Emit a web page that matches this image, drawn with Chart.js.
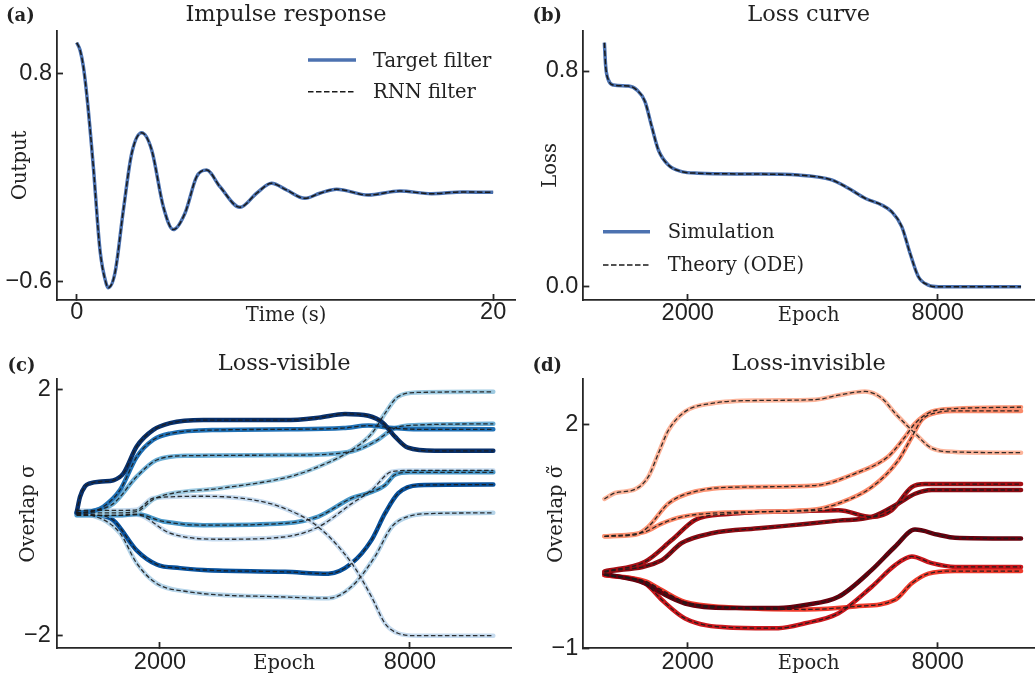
<!DOCTYPE html>
<html>
<head>
<meta charset="utf-8">
<title>RNN filter learning dynamics</title>
<script src="https://cdn.jsdelivr.net/npm/chart.js@4.4.1/dist/chart.umd.min.js"></script>
<style>
  body { margin: 0; background: #fff; width: 1035px; height: 682px; position: relative; overflow: hidden; }
  canvas { position: absolute; }
</style>
</head>
<body>
<canvas id="impulseChart" width="520" height="340" style="left:0;top:0"></canvas>
<canvas id="lossChart" width="515" height="340" style="left:520px;top:0"></canvas>
<canvas id="visibleChart" width="520" height="342" style="left:0;top:340px"></canvas>
<canvas id="invisibleChart" width="515" height="342" style="left:520px;top:340px"></canvas>
<script>
// (a) impulse response: [time (s), output]
const impulseResponse = [
  [0, 1.006], [0.16, 0.956], [0.32, 0.845], [0.51, 0.62], [0.80, 0.17], [1.12, -0.39], [1.41, -0.61],
  [1.52, -0.64], [1.84, -0.54], [2.24, -0.12], [2.64, 0.26], [3.12, 0.40], [3.60, 0.285],
  [4.16, -0.096], [4.64, -0.25], [5.20, -0.14], [5.76, 0.105], [6.24, 0.15], [6.88, 0.038],
  [7.84, -0.10], [8.64, -0.006], [9.36, 0.061], [10.08, 0.016], [10.96, -0.04], [11.68, -0.006],
  [12.48, 0.021], [14.0, -0.018], [15.52, 0.009], [17.04, -0.009], [18.56, 0.003], [20, 0]
];

// (b) loss: [epoch, loss]
const lossCurve = [
  [0, 0.905], [32, 0.816], [96, 0.767], [216, 0.748], [576, 0.744], [776, 0.730],
  [976, 0.686], [1136, 0.594], [1296, 0.507], [1536, 0.451], [1856, 0.427], [2256, 0.421],
  [3456, 0.418], [4656, 0.414], [5456, 0.396], [5856, 0.365], [6256, 0.328], [6656, 0.303],
  [6896, 0.278], [7136, 0.223], [7336, 0.124], [7536, 0.037], [7776, 0.006], [8016, 0], [10000, 0]
];

// (c) loss-visible overlaps: [epoch, sigma]
const visSigma1 = [[0, 0], [80, 0.26], [200, 0.43], [320, 0.48], [600, 0.51], [880, 0.53], [1120, 0.64], [1440, 1.08], [1840, 1.35], [2240, 1.46], [3040, 1.51], [5000, 1.51], [5800, 1.55], [6440, 1.61], [7000, 1.58], [7360, 1.46], [7640, 1.24], [7950, 1.06], [8600, 1.01], [10000, 1.01]];
const visSigma2 = [[0, 0], [400, 0.03], [640, 0.10], [1040, 0.37], [1440, 0.91], [1840, 1.19], [2240, 1.29], [3440, 1.35], [5120, 1.36], [6400, 1.38], [7000, 1.42], [7600, 1.38], [8200, 1.36], [10000, 1.36]];
const visSigma3 = [[0, 0], [400, 0.03], [880, 0.15], [1440, 0.59], [1920, 0.86], [2640, 0.93], [5120, 0.94], [6600, 1.0], [7160, 1.16], [7640, 1.38], [8200, 1.43], [10000, 1.45]];
const visSigma4 = [[0, 0], [1000, 0], [1440, 0.02], [1840, 0.22], [2240, 0.31], [3440, 0.40], [5120, 0.59], [5800, 0.75], [6600, 1.02], [7080, 1.29], [7400, 1.62], [7710, 1.89], [8190, 1.96], [10000, 1.97]];
const visSigma5 = [[0, 0.04], [1000, 0.04], [1440, 0.05], [1840, 0.24], [3040, 0.27], [4240, 0.21], [5000, 0.07], [5800, -0.23], [6600, -0.82], [7080, -1.37], [7400, -1.80], [7710, -1.96], [8190, -2.0], [10000, -2.0]];
const visSigma6 = [[0, -0.04], [1000, -0.04], [1440, -0.02], [2080, -0.14], [3040, -0.20], [5000, -0.17], [5800, -0.06], [6600, 0.24], [7080, 0.34], [7400, 0.45], [7640, 0.62], [8000, 0.66], [10000, 0.66]];
const visSigma7 = [[0, -0.04], [1000, -0.04], [1440, -0.03], [2240, -0.33], [3440, -0.43], [5000, -0.39], [5800, -0.23], [6600, 0.15], [7080, 0.37], [7560, 0.67], [8000, 0.69], [10000, 0.69]];
const visSigma8 = [[0, -0.01], [400, -0.03], [880, -0.12], [1440, -0.61], [1920, -0.84], [2480, -0.90], [3040, -0.93], [5000, -0.96], [6040, -0.99], [6600, -0.82], [7080, -0.44], [7400, -0.01], [7720, 0.32], [8200, 0.45], [10000, 0.46]];
const visSigma9 = [[0, -0.02], [400, -0.05], [1040, -0.33], [1440, -0.82], [1920, -1.15], [2640, -1.28], [5000, -1.37], [6040, -1.39], [6600, -1.20], [7160, -0.71], [7560, -0.23], [7960, -0.06], [8600, -0.01], [10000, 0]];

// (d) loss-invisible overlaps: [epoch, sigma tilde]
const invSigma1 = [[0, 1.0], [256, 1.08], [736, 1.13], [1056, 1.30], [1296, 1.61], [1536, 1.92], [1936, 2.17], [2576, 2.28], [3776, 2.32], [5056, 2.33], [5618, 2.39], [6254, 2.44], [6658, 2.35], [6974, 2.15], [7454, 1.88], [7854, 1.68], [8414, 1.63], [10000, 1.62]];
const invSigma2 = [[0, 0.50], [736, 0.52], [1056, 0.63], [1536, 0.94], [2176, 1.10], [3376, 1.16], [5056, 1.18], [6014, 1.34], [6814, 1.57], [7214, 1.83], [7454, 2.01], [7854, 2.17], [8414, 2.21], [10000, 2.23]];
const invSigma3 = [[0, 0.50], [976, 0.56], [1376, 0.67], [1856, 0.76], [2976, 0.82], [5056, 0.86], [5618, 0.94], [6418, 1.16], [7058, 1.52], [7378, 1.83], [7618, 2.06], [8018, 2.16], [8414, 2.18], [10000, 2.18]];
const invSigma4 = [[0, 0.03], [976, 0.16], [1616, 0.45], [2176, 0.72], [2976, 0.80], [4818, 0.84], [5618, 0.85], [6418, 0.76], [6898, 0.85], [7378, 1.16], [7698, 1.20], [10000, 1.20]];
const invSigma5 = [[0, 0.02], [1376, 0.18], [1856, 0.41], [2576, 0.54], [3776, 0.61], [4818, 0.665], [5618, 0.71], [6418, 0.76], [7058, 0.94], [7458, 1.07], [7858, 1.12], [10000, 1.12]];
const invSigma6 = [[0, 0], [976, -0.13], [1376, -0.26], [1936, -0.40], [2976, -0.46], [4176, -0.46], [4818, -0.42], [5618, -0.31], [6418, 0.05], [6974, 0.36], [7454, 0.59], [8014, 0.52], [8414, 0.48], [10000, 0.47]];
const invSigma7 = [[0, -0.02], [976, -0.13], [1376, -0.35], [1936, -0.60], [2976, -0.72], [4176, -0.73], [4818, -0.665], [5618, -0.53], [6418, -0.175], [6978, 0.115], [7378, 0.23], [7858, 0.14], [8418, 0.09], [10000, 0.09]];
const invSigma8 = [[0, -0.02], [976, -0.10], [1376, -0.22], [1936, -0.38], [2976, -0.45], [4818, -0.48], [6018, -0.44], [6978, -0.35], [7378, -0.13], [7778, 0], [8418, 0.035], [10000, 0.035]];

// tick values and their labels
const impulseXTicks = [0, 20];
const impulseXLabels = ['0', '20'];
const impulseYTicks = [-0.6, 0.8];
const impulseYLabels = ['\u22120.6', '0.8'];
const epochTicks = [2000, 8000];
const epochLabels = ['2000', '8000'];
const lossTicks = [0, 0.8];
const lossLabels = ['0.0', '0.8'];
const visibleTicks = [-2, 2];
const visibleLabels = ['\u22122', '2'];
const invisibleTicks = [-1, 2];
const invisibleLabels = ['\u22121', '2'];

const ink = '#222222';
const spine = '#262626';
const filterBlue = '#4c72b0';
const theoryDash = [5.5, 2.5];

Chart.defaults.font.family = 'Liberation Sans';
Chart.defaults.color = ink;

const titleFont = { family: 'DejaVu Serif', size: 22.5, weight: 'normal', lineHeight: 1.2 };
const labelFont = { family: 'DejaVu Serif', size: 19.5, weight: 'normal', lineHeight: 1.2 };
const tickFont = { family: 'Liberation Sans', size: 23.5, lineHeight: 1.2 };

// legend drawn inside the plot area, reusing each dataset's line style
const lineLegend = {
  id: 'lineLegend',
  afterDraw(chart, args, opts) {
    if (!opts.items) return;
    const ctx = chart.ctx;
    ctx.save();
    ctx.font = '19.5px "DejaVu Serif"';
    ctx.textBaseline = 'middle';
    ctx.fillStyle = ink;
    opts.items.forEach((idx, i) => {
      const ds = chart.data.datasets[idx];
      const y = opts.y + i * opts.rowGap;
      ctx.strokeStyle = ds.borderColor;
      ctx.lineWidth = ds.borderWidth;
      ctx.setLineDash(ds.borderDash || []);
      ctx.beginPath();
      ctx.moveTo(opts.x, y);
      ctx.lineTo(opts.x + opts.lineLength, y);
      ctx.stroke();
      ctx.setLineDash([]);
      ctx.fillText(ds.label, opts.textX, y + opts.textDy);
    });
    ctx.restore();
  }
};

// bold panel letter in the top-left corner
const panelTag = {
  id: 'panelTag',
  afterDraw(chart, args, opts) {
    if (!opts.text) return;
    const ctx = chart.ctx;
    ctx.save();
    ctx.font = 'bold 18px "DejaVu Serif"';
    ctx.fillStyle = ink;
    ctx.textBaseline = 'alphabetic';
    ctx.fillText(opts.text, opts.x, opts.y);
    ctx.restore();
  }
};

function axisOptions(dir, a) {
  return {
    type: 'linear',
    min: a.min,
    max: a.max,
    afterBuildTicks: (s) => { s.ticks = a.ticks.map(v => ({ value: v })); },
    afterFit: (s) => { if (dir === 'x') s.height = a.size; else s.width = a.size; },
    grid: { drawOnChartArea: false, drawTicks: true, tickLength: -6, tickWidth: 1.8, tickColor: spine },
    border: { display: true, color: spine, width: 1.8 },
    ticks: {
      padding: a.tickPad, font: tickFont, color: ink, maxRotation: 0, autoSkip: false,
      callback: (v, i) => a.labels[i]
    },
    title: { display: true, text: a.title, font: labelFont, color: ink, padding: a.titlePad }
  };
}

function panelOptions(p) {
  return {
    responsive: false,
    animation: false,
    events: [],
    layout: { padding: { left: 0, top: 0, right: p.padRight, bottom: 0 } },
    elements: {
      point: { radius: 0 },
      line: { cubicInterpolationMode: 'monotone', fill: false, borderJoinStyle: 'round' }
    },
    plugins: {
      legend: { display: false },
      tooltip: { enabled: false },
      title: { display: true, text: p.title, fullSize: false, color: ink, font: titleFont, padding: p.titlePad },
      lineLegend: p.legend || {},
      panelTag: p.tag
    },
    scales: { x: axisOptions('x', p.x), y: axisOptions('y', p.y) }
  };
}

// simulation (thick, coloured) under theory (thin, dashed black)
function overlapDatasets(curves) {
  const sim = curves.map(c => ({
    data: c.data, borderColor: c.color, borderWidth: 4.5, borderCapStyle: 'round', order: 1
  }));
  const ode = curves.map(c => ({
    data: c.data, borderColor: 'rgba(28,28,28,0.9)', borderWidth: 1.3, borderDash: [4.5, 2.5], order: 0
  }));
  return sim.concat(ode);
}

// (a) Impulse response
new Chart(document.getElementById('impulseChart'), {
  type: 'line',
  data: {
    datasets: [
      { label: 'Target filter', data: impulseResponse, borderColor: filterBlue, borderWidth: 3.5, order: 1 },
      { label: 'RNN filter', data: impulseResponse, borderColor: '#1a1a1a', borderWidth: 1.5, borderDash: theoryDash, order: 0 }
    ]
  },
  options: panelOptions({
    title: 'Impulse response', padRight: 5, titlePad: { top: 1.4, bottom: 2.3 },
    x: { min: -0.946, max: 21.05, ticks: impulseXTicks, labels: impulseXLabels, size: 40, tickPad: 4.1, title: 'Time (s)', titlePad: { top: 0, bottom: 12.8 } },
    y: { min: -0.723, max: 1.086, ticks: impulseYTicks, labels: impulseYLabels, size: 57, tickPad: 11, title: 'Output', titlePad: { top: 9.1, bottom: 0 } },
    legend: { items: [0, 1], x: 308, y: 60, rowGap: 31.7, lineLength: 48, textX: 373, textDy: 1.6 },
    tag: { text: '(a)', x: 6, y: 21 }
  }),
  plugins: [lineLegend, panelTag]
});

// (b) Loss curve
new Chart(document.getElementById('lossChart'), {
  type: 'line',
  data: {
    datasets: [
      { label: 'Simulation', data: lossCurve, borderColor: filterBlue, borderWidth: 3.5, order: 1 },
      { label: 'Theory (ODE)', data: lossCurve, borderColor: '#1a1a1a', borderWidth: 1.5, borderDash: theoryDash, order: 0 }
    ]
  },
  options: panelOptions({
    title: 'Loss curve', padRight: 1, titlePad: { top: 1.4, bottom: 2.3 },
    x: { min: -506, max: 10311, ticks: epochTicks, labels: epochLabels, size: 40, tickPad: 5.2, title: 'Epoch', titlePad: { top: 0, bottom: 12.3 } },
    y: { min: -0.0493, max: 0.9495, ticks: lossTicks, labels: lossLabels, size: 63.3, tickPad: 11, title: 'Loss', titlePad: { top: 19.6, bottom: 0 } },
    legend: { items: [0, 1], x: 83, y: 231.7, rowGap: 33.3, lineLength: 47, textX: 147.7, textDy: 1 },
    tag: { text: '(b)', x: 12.5, y: 21 }
  }),
  plugins: [lineLegend, panelTag]
});

// (c) Loss-visible overlaps
new Chart(document.getElementById('visibleChart'), {
  type: 'line',
  data: {
    datasets: overlapDatasets([
      { data: visSigma1, color: '#08306b' },
      { data: visSigma2, color: '#2171b5' },
      { data: visSigma3, color: '#6baed6' },
      { data: visSigma4, color: '#9ecae1' },
      { data: visSigma5, color: '#c6dbef' },
      { data: visSigma6, color: '#4a98c9' },
      { data: visSigma7, color: '#c6dbef' },
      { data: visSigma8, color: '#08519c' },
      { data: visSigma9, color: '#b5d4e9' }
    ])
  },
  options: panelOptions({
    title: 'Loss-visible', padRight: 8.3, titlePad: { top: 10.4, bottom: 1.9 },
    x: { min: -479, max: 10441, ticks: epochTicks, labels: epochLabels, size: 34, tickPad: 6.4, title: 'Epoch', titlePad: { top: 0, bottom: 6 } },
    y: { min: -2.2, max: 2.174, ticks: visibleTicks, labels: visibleLabels, size: 56.7, tickPad: 12, title: 'Overlap \u03c3', titlePad: { top: 17.5, bottom: 0 } },
    tag: { text: '(c)', x: 7.5, y: 30.7 }
  }),
  plugins: [lineLegend, panelTag]
});

// (d) Loss-invisible overlaps
new Chart(document.getElementById('invisibleChart'), {
  type: 'line',
  data: {
    datasets: overlapDatasets([
      { data: invSigma1, color: '#fcb49a' },
      { data: invSigma2, color: '#fc9575' },
      { data: invSigma3, color: '#fb8a6a' },
      { data: invSigma4, color: '#a50f15' },
      { data: invSigma5, color: '#8c0a12' },
      { data: invSigma6, color: '#67000d' },
      { data: invSigma7, color: '#cb181d' },
      { data: invSigma8, color: '#ef3b2c' }
    ])
  },
  options: panelOptions({
    title: 'Loss-invisible', padRight: 1, titlePad: { top: 10.4, bottom: 1.9 },
    x: { min: -506, max: 10311, ticks: epochTicks, labels: epochLabels, size: 33.7, tickPad: 6.4, title: 'Epoch', titlePad: { top: 0, bottom: 6 } },
    y: { min: -1, max: 2.603, ticks: invisibleTicks, labels: invisibleLabels, size: 63.3, tickPad: 11, title: 'Overlap \u03c3\u0303', titlePad: { top: 25.6, bottom: 0 } },
    tag: { text: '(d)', x: 12.5, y: 30.7 }
  }),
  plugins: [lineLegend, panelTag]
});
</script>
</body>
</html>
